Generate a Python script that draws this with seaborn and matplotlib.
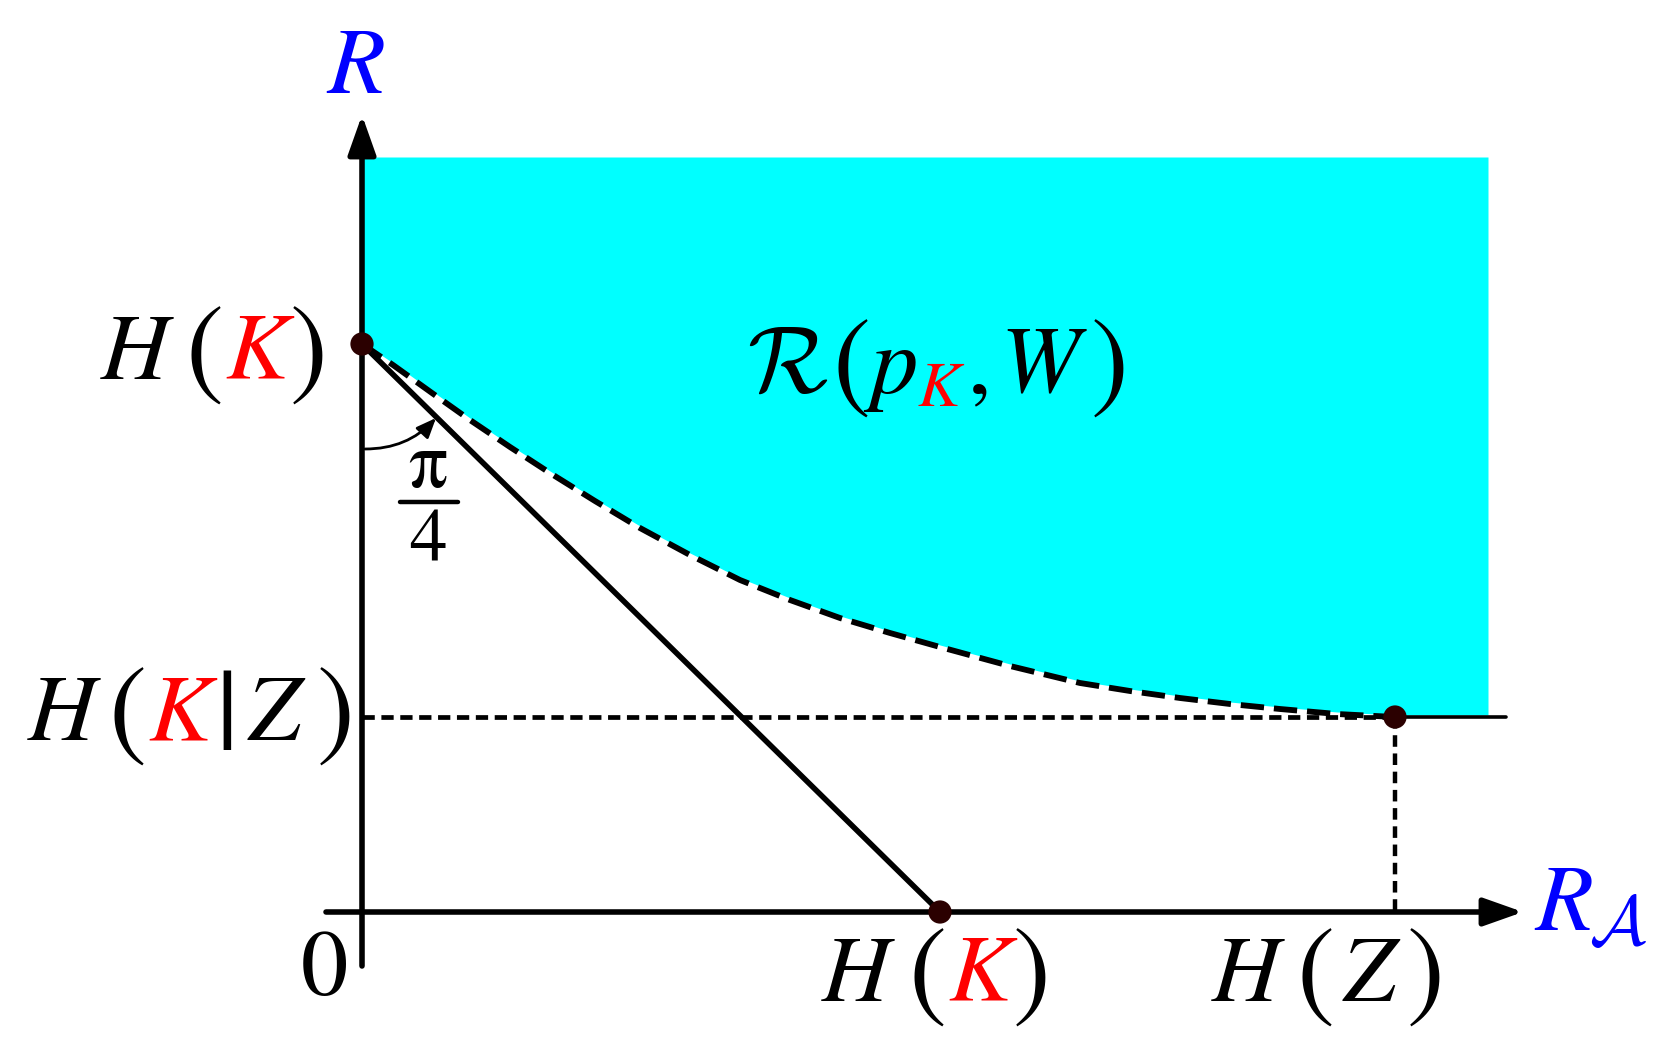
import numpy as np
import pandas as pd
import matplotlib
matplotlib.use("Agg")
import matplotlib.pyplot as plt
import matplotlib.transforms as mtransforms
import seaborn as sns

# valores (1 unidade ~ 100 px)
h_k = 5.68        # H(K) no eixo R
h_k_z = 1.95      # H(K|Z)
h_z = 10.33       # H(Z)
h_k_x = 5.78      # H(K) no eixo R_A
topo = 7.55       # topo da regiao
direita = 11.26   # lado direito da regiao

# fronteira tracejada da regiao R(p_K, W)
curva_x = [0, 0.31, 0.70, 1.08, 1.48, 1.88, 2.33, 2.78, 3.28, 3.78, 4.28,
           4.78, 5.28, 5.78, 6.48, 7.18, 7.68, 8.18, 8.68, 9.18, 9.75, 10.33]
curva_y = [5.68, 5.47, 5.19, 4.92, 4.65, 4.39, 4.11, 3.84, 3.57, 3.32, 3.12,
           2.94, 2.79, 2.65, 2.46, 2.29, 2.21, 2.14, 2.08, 2.03, 1.98, 1.95]

pontos_x = [0, h_k_x, h_z]
pontos_y = [h_k, 0, h_k_z]

sns.set_theme(style="white")
fig = plt.figure(figsize=(16.66, 10.4), dpi=100)
ax = fig.add_axes([0, 0, 1, 1])
ax.set_xlim(-3.62, 13.04)
ax.set_ylim(-1.28, 9.12)
ax.axis("off")

ciano = "#00ffff"
marrom = "#2b0000"

# regiao preenchida
fx = curva_x + [direita]
fy = [v + 0.02 for v in curva_y] + [h_k_z + 0.02]
ax.fill_between(fx, fy, topo, color=ciano, lw=0, zorder=1)

# eixos com setas
seta = dict(arrowstyle="-|>,head_length=24,head_width=8.5",
            mutation_scale=1, lw=4.0, color="black", shrinkA=0, shrinkB=0)
ax.annotate("", xy=(11.61, 0), xytext=(-0.36, 0), arrowprops=seta, zorder=3)
ax.annotate("", xy=(0, 7.97), xytext=(0, -0.54), arrowprops=seta, zorder=3)

# reta de inclinacao pi/4
sns.lineplot(x=[0, h_k_x], y=[h_k, 0], ax=ax, color="black", lw=4.0,
             sort=False, estimator=None, zorder=4)

# curva tracejada
sns.lineplot(x=curva_x, y=curva_y, ax=ax, color="black", lw=4.2,
             sort=False, estimator=None, zorder=4)
ax.lines[-1].set_dashes((4.0, 1.7))

# linhas auxiliares
ax.plot([0, h_z], [h_k_z, h_k_z], color="black", lw=3.4, dashes=(2.6, 1.4), zorder=3)
ax.plot([h_z, 11.44], [h_k_z, h_k_z], color="black", lw=2.6, zorder=3)
ax.plot([h_z, h_z], [h_k_z, 0], color="black", lw=3.2, dashes=(2.6, 1.5), zorder=3)

sns.scatterplot(x=pontos_x, y=pontos_y, ax=ax, color=marrom, s=280,
                edgecolor="none", zorder=6)

# arco do angulo
ax.annotate("", xy=(0.74, 4.94), xytext=(0.03, 4.63),
            arrowprops=dict(arrowstyle="-|>,head_length=12,head_width=5",
                            mutation_scale=1, lw=2.0, color="black",
                            shrinkA=0, shrinkB=0,
                            connectionstyle="arc3,rad=0.22"), zorder=5)
ax.text(0.66, 4.25, "π", fontsize=56, family="STIXGeneral",
        ha="center", va="baseline", color="black")
ax.plot([0.38, 0.96], [4.10, 4.10], color="black", lw=3.2)
ax.text(0.66, 3.50, "4", fontsize=54, family="STIXGeneral",
        ha="center", va="baseline", color="black")

fig.canvas.draw()
rend = fig.canvas.get_renderer()
ident = mtransforms.IdentityTransform()


def escreve(x, y, partes):
    # partes: (texto, cor, tamanho, italico, espaco_px, desloc_px, mathcal)
    xd, yd = ax.transData.transform((x, y))
    for texto, cor, tam, ital, gap, dy, mat in partes:
        xd += gap
        kw = dict(fontsize=tam, color=cor, transform=ident,
                  ha="left", va="baseline")
        if mat:
            t = ax.text(xd, yd + dy, texto, math_fontfamily="cm", **kw)
        else:
            t = ax.text(xd, yd + dy, texto, family="STIXGeneral",
                        style="italic" if ital else "normal", **kw)
        xd = t.get_window_extent(rend).x1


T = 68
P = 82   # parenteses maiores
preto, verm, azul = "black", "red", "blue"

escreve(-2.61, 5.33, [("H", preto, T, True, 0, 0, False),
                      ("(", preto, P, False, 16, -6, False),
                      ("K", verm, T, True, 2, 0, False),
                      (")", preto, P, False, 2, -6, False)])
escreve(-3.34, 1.72, [("H", preto, T, True, 0, 0, False),
                      ("(", preto, P, False, 12, -6, False),
                      ("K", verm, T, True, 2, 0, False),
                      ("|", preto, P, False, 4, -8, False),
                      ("Z", preto, T, True, 10, 0, False),
                      (")", preto, P, False, 16, -6, False)])
escreve(4.60, -0.89, [("H", preto, T, True, 0, 0, False),
                      ("(", preto, P, False, 18, -6, False),
                      ("K", verm, T, True, 2, 0, False),
                      (")", preto, P, False, 2, -6, False)])
escreve(8.50, -0.89, [("H", preto, T, True, 0, 0, False),
                      ("(", preto, P, False, 16, -6, False),
                      ("Z", preto, T, True, 8, 0, False),
                      (")", preto, P, False, 12, -6, False)])
escreve(-0.61, -0.83, [("0", preto, T, False, 0, 0, False)])
escreve(-0.35, 8.19, [("R", azul, T, True, 0, 0, False)])
escreve(11.73, -0.18, [("R", azul, T, True, 0, 0, False),
                       (r"$\mathcal{A}$", azul, 50, False, -4, -15, True)])
escreve(3.85, 5.20, [(r"$\mathcal{R}$", preto, T, False, 0, 0, True),
                     ("(", preto, P, False, 4, -6, False),
                     ("p", preto, T, True, 0, 0, False),
                     ("K", verm, 46, True, 0, -14, False),
                     (",", preto, T, False, 8, 0, False),
                     ("W", preto, T, True, 8, 0, False),
                     (")", preto, P, False, 12, -6, False)])

fig.savefig("out.png", dpi=100, facecolor="white")
